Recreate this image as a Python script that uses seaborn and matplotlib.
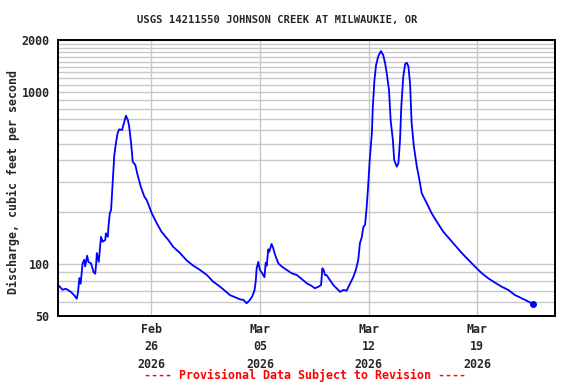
import matplotlib
matplotlib.use("Agg")
import matplotlib.pyplot as plt
import matplotlib.dates as mdates
from matplotlib.ticker import FixedLocator, NullFormatter, FixedFormatter
import seaborn as sns
import pandas as pd

title = "USGS 14211550 JOHNSON CREEK AT MILWAUKIE, OR"
ylabel = "Discharge, cubic feet per second"
footer = "---- Provisional Data Subject to Revision ----"

times = [
    "2026-02-20 01:00", "2026-02-20 07:00", "2026-02-20 12:00", "2026-02-20 20:00",
    "2026-02-21 01:00", "2026-02-21 05:00", "2026-02-21 07:00", "2026-02-21 09:00",
    "2026-02-21 11:00", "2026-02-21 14:00", "2026-02-21 16:30", "2026-02-21 18:00",
    "2026-02-21 21:00", "2026-02-21 23:00", "2026-02-22 03:00", "2026-02-22 07:00",
    "2026-02-22 09:30", "2026-02-22 11:00", "2026-02-22 12:00", "2026-02-22 15:00",
    "2026-02-22 17:00", "2026-02-22 18:30", "2026-02-22 21:00", "2026-02-23 01:00",
    "2026-02-23 02:00", "2026-02-23 05:00", "2026-02-23 06:00", "2026-02-23 08:00",
    "2026-02-23 10:00", "2026-02-23 12:30", "2026-02-23 15:00", "2026-02-23 17:30",
    "2026-02-23 20:00", "2026-02-23 22:30", "2026-02-24 03:00", "2026-02-24 06:30",
    "2026-02-24 09:00", "2026-02-24 12:00", "2026-02-24 14:00", "2026-02-24 17:00",
    "2026-02-24 19:30", "2026-02-24 23:30", "2026-02-25 03:00", "2026-02-25 08:00",
    "2026-02-25 13:30", "2026-02-25 17:00", "2026-02-26 01:00", "2026-02-26 08:30",
    "2026-02-26 16:00", "2026-02-27 02:30", "2026-02-27 10:00", "2026-02-27 20:30",
    "2026-02-28 07:00", "2026-02-28 17:00", "2026-03-01 03:30", "2026-03-01 14:00",
    "2026-03-02 00:00", "2026-03-02 10:30", "2026-03-02 18:00", "2026-03-03 02:00",
    "2026-03-03 09:30", "2026-03-03 17:00", "2026-03-03 22:30", "2026-03-04 03:30",
    "2026-03-04 08:30", "2026-03-04 11:30", "2026-03-04 15:30", "2026-03-04 17:30",
    "2026-03-04 19:00", "2026-03-04 21:30", "2026-03-05 00:00", "2026-03-05 03:30",
    "2026-03-05 07:00", "2026-03-05 09:00", "2026-03-05 10:30", "2026-03-05 13:00",
    "2026-03-05 14:30", "2026-03-05 18:00", "2026-03-05 20:30", "2026-03-05 23:30",
    "2026-03-06 04:30", "2026-03-06 09:30", "2026-03-06 17:30", "2026-03-07 01:00",
    "2026-03-07 09:00", "2026-03-07 16:30", "2026-03-08 00:30", "2026-03-08 08:00",
    "2026-03-08 13:00", "2026-03-08 18:30", "2026-03-08 22:30", "2026-03-09 00:30",
    "2026-03-09 02:30", "2026-03-09 04:30", "2026-03-09 07:00", "2026-03-09 12:00",
    "2026-03-09 17:30", "2026-03-09 22:30", "2026-03-10 04:00", "2026-03-10 09:00",
    "2026-03-10 14:00", "2026-03-10 19:30", "2026-03-11 00:30", "2026-03-11 04:30",
    "2026-03-11 08:00", "2026-03-11 10:30", "2026-03-11 13:30", "2026-03-11 16:00",
    "2026-03-11 18:30", "2026-03-11 21:00", "2026-03-11 23:30", "2026-03-12 02:00",
    "2026-03-12 05:00", "2026-03-12 06:30", "2026-03-12 09:00", "2026-03-12 11:30",
    "2026-03-12 15:00", "2026-03-12 19:00", "2026-03-12 22:30", "2026-03-13 01:30",
    "2026-03-13 04:00", "2026-03-13 07:30", "2026-03-13 10:00", "2026-03-13 13:30",
    "2026-03-13 15:30", "2026-03-13 19:30", "2026-03-13 22:00", "2026-03-14 00:30",
    "2026-03-14 02:30", "2026-03-14 05:30", "2026-03-14 08:30", "2026-03-14 11:00",
    "2026-03-14 13:30", "2026-03-14 16:00", "2026-03-14 18:30", "2026-03-14 22:00",
    "2026-03-15 02:30", "2026-03-15 06:30", "2026-03-15 10:00", "2026-03-15 18:00",
    "2026-03-16 01:30", "2026-03-16 09:30", "2026-03-16 19:30", "2026-03-17 03:00",
    "2026-03-17 13:30", "2026-03-18 00:00", "2026-03-18 10:00", "2026-03-18 20:30",
    "2026-03-19 07:00", "2026-03-19 17:00", "2026-03-20 03:30", "2026-03-20 13:30",
    "2026-03-21 00:00", "2026-03-21 10:00", "2026-03-21 20:30", "2026-03-22 07:00",
    "2026-03-22 14:30",
]

discharge = [
    75, 71, 72, 69,
    66, 63, 69, 83,
    77, 101, 106, 97,
    112, 103, 101, 90,
    88, 101, 116, 103,
    126, 144, 135, 138,
    151, 144, 165, 197,
    206, 301, 430, 502,
    574, 606, 601, 671,
    727, 686, 628, 502,
    393, 376, 329, 281,
    246, 236, 197, 173,
    154, 138, 126, 116,
    105, 98, 92.5, 86.5,
    79, 74, 70, 66,
    64.3, 62.5, 62, 59.3,
    62, 64.3, 70, 79,
    94.6, 103, 92.5, 88.5,
    84, 102, 98, 122,
    118, 131, 124, 113,
    101, 97, 92.5, 88.5,
    86.5, 82, 77.4, 74.7,
    72.4, 74, 75.6, 94.6,
    92.5, 86.5, 86.5, 81,
    75.6, 72.4, 69, 70.8,
    70.2, 77.4, 84.5, 93.3,
    106, 132, 144, 165,
    169, 215, 294, 420,
    574, 820, 1172, 1431,
    1614, 1725, 1636, 1465,
    1282, 1025, 686, 525,
    402, 368, 385, 525,
    820, 1224, 1452, 1476,
    1404, 1120, 656, 480,
    368, 308, 258, 225,
    197, 176, 154, 143,
    129, 116, 106, 96.6,
    88.5, 82.7, 78, 74,
    70.8, 66.2, 63.4, 60.6,
    58.7,
]

x_tick_dates = ["2026-02-26", "2026-03-05", "2026-03-12", "2026-03-19"]
x_tick_labels = ["Feb\n26\n2026", "Mar\n05\n2026", "Mar\n12\n2026", "Mar\n19\n2026"]
y_major = [50, 100, 1000, 2000]
y_minor = [60, 70, 80, 90, 200, 300, 400, 500, 600, 700, 800, 900,
           1100, 1200, 1300, 1400, 1500, 1600, 1700, 1800, 1900]
x_start, x_end = "2026-02-20", "2026-03-24"

df = pd.DataFrame({"time": pd.to_datetime(times), "cfs": discharge})

sns.set_style("white")
plt.rcParams["font.family"] = ["DejaVu Sans Mono", "DejaVu Sans"]
plt.rcParams["font.weight"] = "bold"

fig = plt.figure(figsize=(5.76, 3.84), dpi=100)
ax = fig.add_axes([58 / 576, 1 - 316 / 384, 497 / 576, 276 / 384])

sns.lineplot(data=df, x="time", y="cfs", ax=ax, color="#0000ff", lw=1.3,
             estimator=None, sort=False)
ax.plot(df["time"].iloc[-1], df["cfs"].iloc[-1], "o", color="#0000ff", ms=4)

ax.set_yscale("log")
ax.set_ylim(50, 2000)
ax.set_xlim(pd.Timestamp(x_start), pd.Timestamp(x_end))

ax.yaxis.set_major_locator(FixedLocator(y_major))
ax.yaxis.set_major_formatter(FixedFormatter([str(v) for v in y_major]))
ax.yaxis.set_minor_locator(FixedLocator(y_minor))
ax.yaxis.set_minor_formatter(NullFormatter())

ax.set_xticks(mdates.date2num(pd.to_datetime(x_tick_dates)))
ax.set_xticklabels(x_tick_labels, linespacing=1.45)
ax.xaxis.set_minor_locator(FixedLocator([]))

ax.grid(True, which="both", color="#c8c8c8", lw=1.0)
ax.set_axisbelow(True)
ax.tick_params(axis="both", which="both", length=0, labelsize=8.4)
ax.tick_params(axis="y", pad=6)
ax.tick_params(axis="x", pad=5)
for lab in ax.get_xticklabels() + ax.get_yticklabels():
    lab.set_fontweight("bold")
for s in ax.spines.values():
    s.set_color("black")
    s.set_linewidth(1.4)
    s.set_visible(True)

ax.set_xlabel("")
ax.set_ylabel("")
fig.text(13 / 576, 1 - 182 / 384, ylabel, rotation=90, ha="center", va="center",
         fontsize=8.4, fontweight="bold")
fig.text(277 / 576, 1 - 20 / 384, title, ha="center", va="center",
         fontsize=7.6, fontweight="bold")
fig.text(305 / 576, 1 - 375 / 384, footer, ha="center", va="center",
         fontsize=8.4, fontweight="bold", color="#ff0000")

fig.savefig("out.png", dpi=100, facecolor="white")
